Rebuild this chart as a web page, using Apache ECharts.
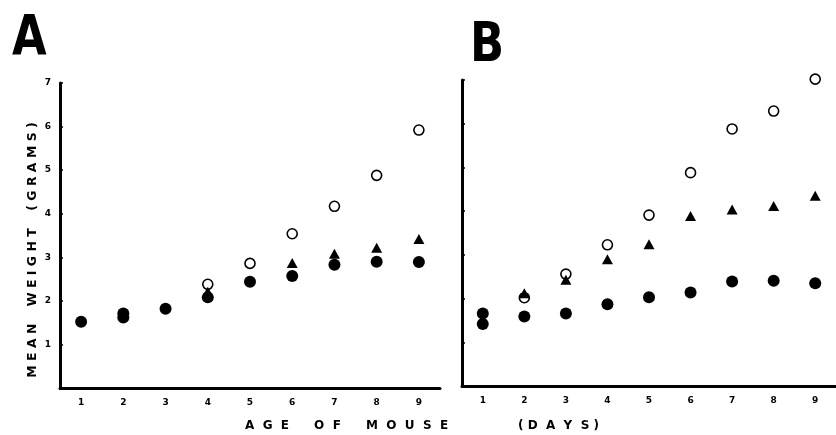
<!DOCTYPE html>
<html>
<head>
<meta charset="utf-8">
<script src="https://cdn.jsdelivr.net/npm/echarts@6/dist/echarts.min.js"></script>
<style>
  html, body { margin: 0; padding: 0; background: #fff; }
  #chart { width: 836px; height: 435px; }
</style>
</head>
<body>
<div id="chart"></div>
<script>
// days on both x axes
const days = ["1", "2", "3", "4", "5", "6", "7", "8", "9"];
const yTicks = [1, 2, 3, 4, 5, 6, 7];

// panel A
const openA = [null, null, null, 2.38, 2.86, 3.54, 4.17, 4.88, 5.92];
const triA = [null, null, null, 2.21, null, 2.87, 3.08, 3.22, 3.42];
const filledA = [1.52, 1.62, 1.82, 2.08, 2.44, 2.57, 2.83, 2.90, 2.89];
const dupFilledA = [null, 1.71, null, null, null, null, null, null, null];

// panel B
const openB = [null, 2.02, 2.56, 3.23, 3.91, 4.88, 5.88, 6.29, 7.02];
const triB = [null, 2.12, 2.43, 2.90, 3.24, 3.89, 4.04, 4.12, 4.35];
const filledB = [1.42, 1.59, 1.66, 1.87, 2.03, 2.14, 2.39, 2.41, 2.35];
const dupFilledB = [1.66, null, null, null, null, null, null, null, null];

const FONT = "DejaVu Sans";

function xAxisFor(gridIndex) {
    return {
        type: "category",
        gridIndex: gridIndex,
        data: days,
        boundaryGap: true,
        axisLine: { lineStyle: { color: "#000", width: 3 } },
        axisTick: { inside: true, alignWithLabel: true, length: 3, lineStyle: { color: "#000", width: 1.5 } },
        axisLabel: { color: "#000", fontFamily: FONT, fontWeight: "bold", fontSize: 9, margin: 10 },
        splitLine: { show: false },
    };
}

function yAxisFor(gridIndex, showLabels) {
    return {
        type: "value",
        gridIndex: gridIndex,
        min: 0,
        max: 7,
        interval: 1,
        axisLine: { show: true, lineStyle: { color: "#000", width: 3 } },
        axisTick: { show: true, inside: true, length: 3, lineStyle: { color: "#000", width: 1.5 } },
        axisLabel: {
            show: showLabels,
            color: "#000",
            fontFamily: FONT,
            fontWeight: "bold",
            fontSize: 9,
            margin: 9,
            formatter: function (v) { return yTicks.indexOf(v) >= 0 ? String(v) : ""; },
        },
        splitLine: { show: false },
    };
}

function openSeries(data, idx) {
    return {
        type: "scatter", xAxisIndex: idx, yAxisIndex: idx, data: data, clip: false,
        symbol: "circle", symbolSize: 10,
        itemStyle: { color: "#fff", borderColor: "#000", borderWidth: 1.6, opacity: 1 },
    };
}
function filledSeries(data, idx) {
    return {
        type: "scatter", xAxisIndex: idx, yAxisIndex: idx, data: data, clip: false,
        symbol: "circle", symbolSize: 12,
        itemStyle: { color: "#000", opacity: 1 },
    };
}
function triSeries(data, idx) {
    return {
        type: "scatter", xAxisIndex: idx, yAxisIndex: idx, data: data, clip: false,
        symbol: "triangle", symbolSize: [11, 10],
        itemStyle: { color: "#000", opacity: 1 },
    };
}

const option = {
    backgroundColor: "#fff",
    animation: false,
    grid: [
        { left: 60, right: 396, top: 83, bottom: 47 },
        { left: 462, right: -12, top: 80, bottom: 49 },
    ],
    xAxis: [xAxisFor(0), xAxisFor(1)],
    yAxis: [yAxisFor(0, true), yAxisFor(1, false)],
    series: [
        openSeries(openA, 0), filledSeries(filledA, 0), filledSeries(dupFilledA, 0), triSeries(triA, 0),
        openSeries(openB, 1), filledSeries(filledB, 1), filledSeries(dupFilledB, 1), triSeries(triB, 1),
    ],
    graphic: [
        { type: "text", left: 12, top: 11, scaleX: 0.8,
          style: { text: "A", fill: "#000", font: "bold 56px " + FONT } },
        { type: "text", left: 470, top: 18, scaleX: 0.8,
          style: { text: "B", fill: "#000", font: "bold 56px " + FONT } },
        { type: "text", x: 33, y: 250, rotation: Math.PI / 2,
          style: { text: "M E A N    W E I G H T    ( G R A M S )", fill: "#000",
                   font: "bold 12.5px " + FONT, align: "center", verticalAlign: "middle" } },
        { type: "text", left: 245, top: 420,
          style: { text: "A  G  E      O  F      M  O  U  S  E", fill: "#000", font: "bold 12px " + FONT } },
        { type: "text", left: 518, top: 420,
          style: { text: "( D  A  Y  S )", fill: "#000", font: "bold 12px " + FONT } },
    ],
};

const chart = echarts.init(document.getElementById("chart"));
chart.setOption(option);
</script>
</body>
</html>
